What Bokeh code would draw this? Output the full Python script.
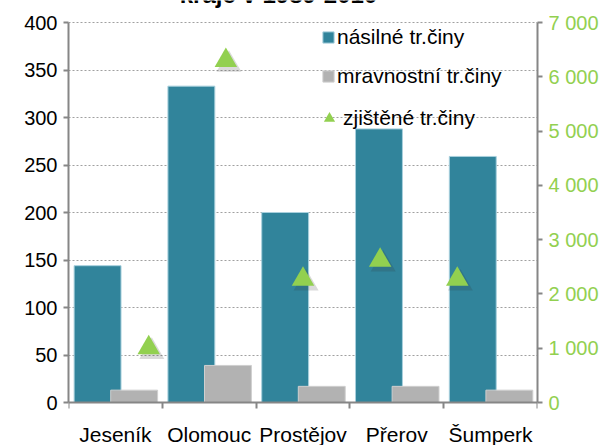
from bokeh.plotting import figure
from bokeh.models import (Range1d, LinearAxis, FixedTicker, Legend, LegendItem,
                          Label, ColumnDataSource)
from bokeh.transform import dodge
from bokeh.embed import file_html
from bokeh.resources import INLINE

# ---- data -------------------------------------------------------------
title_text = "kraje v 1989-2010"
districts = ["Jeseník", "Olomouc", "Prostějov", "Přerov", "Šumperk"]
violent = [144, 333, 200, 288, 259]          # násilné tr.činy (left axis)
moral = [13, 39, 17, 17, 13]                 # mravnostní tr.činy (left axis)
detected = [1010, 6300, 2270, 2620, 2270]    # zjištěné tr.činy (right axis)
series_names = ["násilné tr.činy", "mravnostní tr.činy", "zjištěné tr.činy"]
left_ticks = [0, 50, 100, 150, 200, 250, 300, 350, 400]
right_ticks = [0, 1000, 2000, 3000, 4000, 5000, 6000, 7000]
right_tick_labels = ["0", "1 000", "2 000", "3 000", "4 000", "5 000", "6 000", "7 000"]

n = len(districts)
centers = [i + 0.5 for i in range(n)]
boundaries = list(range(n + 1))
order = list(range(1, n + 1))

TEAL = "#31849B"
GRAY = "#B2B2B2"
GREEN = "#92D050"
AXIS = "#868686"
FONT = "Liberation Sans"

# ---- layout: frame covers the whole canvas, value axes are bounded --------
W, H = 611, 445
TOP_PX, ZERO_PX = 22, 402          # canvas rows of the 400 line and the 0 line
LMAX, RMAX = 400, 7000
scale = (ZERO_PX - TOP_PX) / LMAX
y_lo = -(H - ZERO_PX) / scale
y_hi = LMAX + TOP_PX / scale
r_lo, r_hi = y_lo * RMAX / LMAX, y_hi * RMAX / LMAX

src = ColumnDataSource(dict(center=centers, violent=violent, moral=moral,
                            order=order, detected=detected, name=districts))

p = figure(width=W, height=H, x_range=Range1d(0, n), y_range=Range1d(y_lo, y_hi),
           output_backend="svg", toolbar_location=None,
           min_border_left=68, min_border_right=74, min_border_top=0,
           min_border_bottom=0)
p.outline_line_color = None
p.background_fill_color = "white"

# secondary ranges (scatter series on its own x scale, as in the source chart)
p.extra_x_ranges = {"tri": Range1d(-0.04, 6.04), "tri_sh": Range1d(-0.08, 6.0)}
p.extra_y_ranges = {"right": Range1d(r_lo, r_hi), "right_sh": Range1d(r_lo + 75, r_hi + 75)}

# ---- axes ---------------------------------------------------------------
xa = p.xaxis[0]
xa.fixed_location = 0
xa.ticker = FixedTicker(ticks=centers, minor_ticks=boundaries)
xa.major_label_overrides = {c: d for c, d in zip(centers, districts)}
xa.major_tick_line_color = None
xa.major_tick_out = 0
xa.minor_tick_out = 6
xa.minor_tick_in = 0
xa.minor_tick_line_color = AXIS
xa.minor_tick_line_width = 2
xa.axis_line_color = AXIS
xa.axis_line_width = 2
xa.major_label_standoff = 14
xa.major_label_text_font = FONT
xa.major_label_text_font_size = "21px"
xa.major_label_text_color = "black"

ya = p.yaxis[0]
ya.bounds = (0, LMAX)
ya.ticker = FixedTicker(ticks=left_ticks)
ya.major_tick_out = 5
ya.major_tick_in = 0
ya.minor_tick_line_color = None
ya.major_tick_line_color = AXIS
ya.major_tick_line_width = 2
ya.axis_line_color = AXIS
ya.axis_line_width = 2
ya.major_label_standoff = 6
ya.major_label_text_font = FONT
ya.major_label_text_font_size = "20px"
ya.major_label_text_color = "black"

ra = LinearAxis(y_range_name="right", ticker=FixedTicker(ticks=right_ticks), bounds=(0, RMAX))
ra.major_label_overrides = {t: l for t, l in zip(right_ticks, right_tick_labels)}
ra.major_tick_out = 5
ra.major_tick_in = 0
ra.minor_tick_line_color = None
ra.major_tick_line_color = AXIS
ra.major_tick_line_width = 2
ra.axis_line_color = AXIS
ra.axis_line_width = 2
ra.major_label_standoff = 6
ra.major_label_text_font = FONT
ra.major_label_text_font_size = "20px"
ra.major_label_text_color = GREEN
p.add_layout(ra, "right")

p.xgrid.grid_line_color = None
p.ygrid.ticker = FixedTicker(ticks=left_ticks)
p.ygrid.grid_line_color = "#A0A0A0"
p.ygrid.grid_line_dash = "2 2"
p.ygrid.grid_line_width = 1.2

# ---- glyphs ---------------------------------------------------------------
r1 = p.vbar(x=dodge("center", -0.19, range=p.x_range), top="violent", bottom=0, width=0.5,
            source=src, fill_color=TEAL, line_color="#A8D0DD", line_width=1)
r2 = p.vbar(x=dodge("center", 0.2, range=p.x_range), top="moral", bottom=0, width=0.5,
            source=src, fill_color=GRAY, line_color="#CFCFCF", line_width=1)

p.scatter(x="order", y="detected", source=src, marker="triangle", size=25,
          x_range_name="tri_sh", y_range_name="right_sh",
          fill_color="#303030", fill_alpha=0.18, line_color=None)
r3 = p.scatter(x="order", y="detected", source=src, marker="triangle", size=22.5,
               x_range_name="tri", y_range_name="right",
               fill_color=GREEN, line_color=None)

# ---- legend ---------------------------------------------------------------
def make_legend(label, renderer, loc, gw, gh, standoff, baseline):
    return Legend(items=[LegendItem(label=label, renderers=[renderer])],
                  location=loc, glyph_width=gw, glyph_height=gh,
                  padding=0, margin=0, spacing=0, label_height=10,
                  border_line_color=None, background_fill_alpha=0,
                  label_standoff=standoff, label_text_font=FONT,
                  label_text_font_size="21px", label_text_color="black",
                  label_text_baseline=baseline)

p.add_layout(make_legend(series_names[0], r1, (253, 396), 14, 14, 2, "alphabetic"), "center")
p.add_layout(make_legend(series_names[1], r2, (253, 357), 14, 14, 2, "alphabetic"), "center")
p.add_layout(make_legend(series_names[2], r3, (247, 313), 28, 28, -6, "middle"), "center")

# ---- title (only its lower edge shows above the plot) --------------------
p.add_layout(Label(x=210, y=H + 6, x_units="screen", y_units="screen", text=title_text,
                   text_align="center", text_baseline="alphabetic",
                   text_font=FONT, text_font_size="24px", text_font_style="bold",
                   text_color="black"))

open("out.html", "w").write(file_html(p, INLINE))
